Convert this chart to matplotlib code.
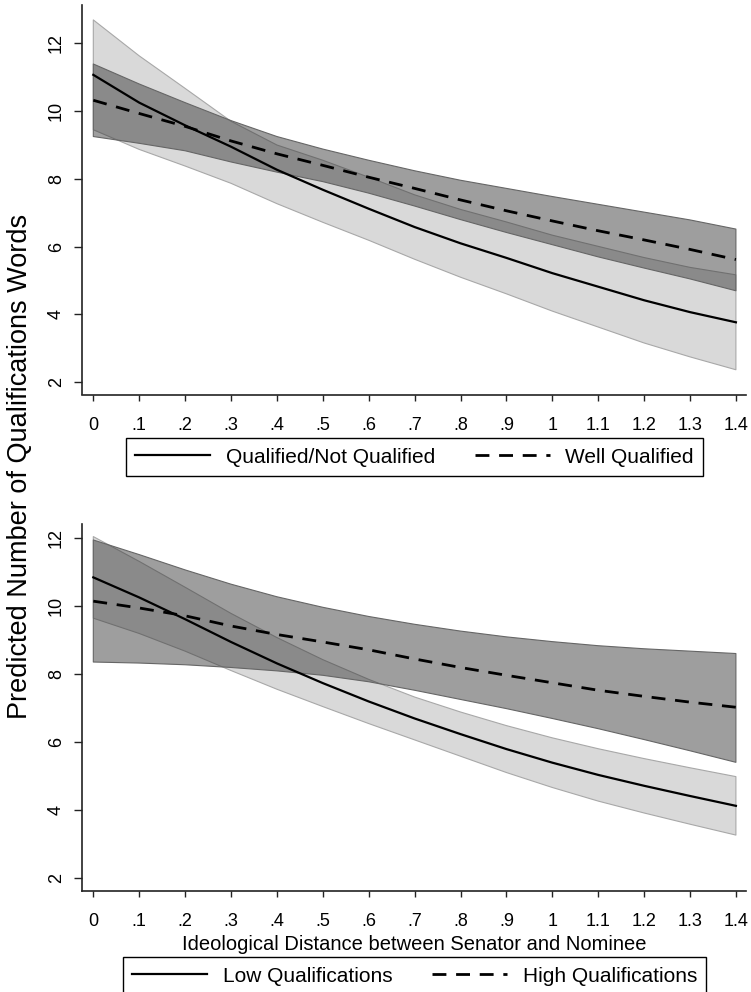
import matplotlib
matplotlib.use("Agg")
import matplotlib.pyplot as plt
from matplotlib.lines import Line2D

plt.rcParams["font.family"] = ["Liberation Sans", "DejaVu Sans"]

# x grid (ideological distance)
dist = [0.0, 0.1, 0.2, 0.3, 0.4, 0.5, 0.6, 0.7, 0.8, 0.9, 1.0, 1.1, 1.2, 1.3, 1.4]
x_ticks = [0.0, 0.1, 0.2, 0.3, 0.4, 0.5, 0.6, 0.7, 0.8, 0.9, 1.0, 1.1, 1.2, 1.3, 1.4]
x_ticklabels = ["0", ".1", ".2", ".3", ".4", ".5", ".6", ".7", ".8", ".9",
                "1", "1.1", "1.2", "1.3", "1.4"]
y_ticks = [2, 4, 6, 8, 10, 12]

# top panel: Qualified/Not Qualified vs Well Qualified
qnq_mean = [11.07, 10.25, 9.58, 8.95, 8.27, 7.68, 7.12, 6.58, 6.1, 5.67, 5.22, 4.82, 4.42, 4.07, 3.77]
qnq_hi = [12.69, 11.63, 10.67, 9.7, 9.0, 8.55, 8.05, 7.53, 7.1, 6.73, 6.34, 6.01, 5.68, 5.39, 5.17]
qnq_lo = [9.45, 8.87, 8.38, 7.87, 7.27, 6.72, 6.19, 5.63, 5.1, 4.61, 4.1, 3.63, 3.16, 2.75, 2.37]

wq_mean = [10.32, 9.93, 9.55, 9.12, 8.74, 8.4, 8.05, 7.72, 7.38, 7.06, 6.76, 6.47, 6.2, 5.92, 5.62]
wq_hi = [11.39, 10.8, 10.25, 9.72, 9.25, 8.88, 8.55, 8.24, 7.96, 7.72, 7.48, 7.25, 7.02, 6.79, 6.52]
wq_lo = [9.25, 9.05, 8.83, 8.5, 8.2, 7.92, 7.58, 7.2, 6.8, 6.42, 6.06, 5.7, 5.37, 5.05, 4.70]

# bottom panel: Low vs High Qualifications
lowq_mean = [10.85, 10.26, 9.62, 8.95, 8.32, 7.74, 7.2, 6.7, 6.24, 5.8, 5.4, 5.04, 4.72, 4.42, 4.13]
lowq_hi = [12.05, 11.32, 10.56, 9.79, 9.08, 8.43, 7.85, 7.33, 6.89, 6.49, 6.13, 5.81, 5.52, 5.25, 4.99]
lowq_lo = [9.65, 9.2, 8.68, 8.11, 7.56, 7.05, 6.55, 6.07, 5.59, 5.11, 4.67, 4.27, 3.92, 3.59, 3.27]

highq_mean = [10.15, 9.95, 9.72, 9.42, 9.17, 8.95, 8.72, 8.45, 8.2, 7.97, 7.75, 7.53, 7.35, 7.18, 7.03]
highq_hi = [11.95, 11.52, 11.07, 10.65, 10.28, 9.97, 9.7, 9.47, 9.27, 9.1, 8.96, 8.84, 8.75, 8.68, 8.61]
highq_lo = [8.36, 8.33, 8.28, 8.2, 8.1, 7.97, 7.78, 7.53, 7.26, 6.99, 6.7, 6.4, 6.08, 5.75, 5.41]

W, H = 751, 992
fig = plt.figure(figsize=(W / 100, H / 100), dpi=100)


def px_rect(left, top, right, bottom):
    return [left / W, 1 - bottom / H, (right - left) / W, (bottom - top) / H]


ax_top = fig.add_axes(px_rect(81.7, 5, 746, 394.5))
ax_bot = fig.add_axes(px_rect(81.7, 524, 746, 890.5))

SOLID_LW = 1.6
DASH_LW = 2.0
DASHES = (5, 3.5)


def draw_panel(ax, light, dark, ytop):
    m1, lo1, hi1 = light
    m2, lo2, hi2 = dark
    # light band (solid-line series)
    ax.fill_between(dist, lo1, hi1, facecolor="#d9d9d9", edgecolor="none", zorder=1)
    ax.fill_between(dist, lo1, hi1, facecolor="none", edgecolor="#a8a8a8", lw=0.8, zorder=1.5)
    # dark band, see-through so the overlap reads darker
    ax.fill_between(dist, lo2, hi2, facecolor="#323232", alpha=0.47, edgecolor="none", zorder=2)
    ax.fill_between(dist, lo2, hi2, facecolor="none", edgecolor="#666666", lw=0.8, zorder=2.5)

    ax.plot(dist, m1, color="black", lw=SOLID_LW, zorder=4)
    ax.plot(dist, m2, color="black", lw=DASH_LW, dashes=DASHES, zorder=4)

    ax.set_xlim(-0.0253, 1.422)
    ax.set_ylim(1.64, ytop)
    ax.set_xticks(x_ticks)
    ax.set_xticklabels(x_ticklabels)
    ax.set_yticks(y_ticks)
    ax.set_yticklabels([str(v) for v in y_ticks])

    for s in ["top", "right"]:
        ax.spines[s].set_visible(False)
    for s in ["left", "bottom"]:
        ax.spines[s].set_color("#222222")
        ax.spines[s].set_linewidth(1.2)

    ax.tick_params(axis="x", length=4.5, width=1.0, pad=12, labelsize=13, colors="#222222")
    ax.tick_params(axis="y", length=6, width=1.0, pad=6, labelsize=13, colors="#222222",
                   labelrotation=90)
    for lab in ax.get_yticklabels():
        lab.set_va("center")
    for lab in ax.get_xticklabels() + ax.get_yticklabels():
        lab.set_color("black")


draw_panel(ax_top, (qnq_mean, qnq_lo, qnq_hi), (wq_mean, wq_lo, wq_hi), 13.13)
draw_panel(ax_bot, (lowq_mean, lowq_lo, lowq_hi), (highq_mean, highq_lo, highq_hi), 12.42)

ax_bot.set_xlabel("Ideological Distance between Senator and Nominee", fontsize=14.5, labelpad=3)

fig.text(0.027, 0.530, "Predicted Number of Qualifications Words", rotation=90,
         ha="center", va="center", fontsize=19.5)


def add_legend(labels, top_px):
    handles = [Line2D([], [], color="black", lw=SOLID_LW),
               Line2D([], [], color="black", lw=DASH_LW, dashes=DASHES)]
    leg = fig.legend(handles, labels, loc="upper center",
                     bbox_to_anchor=(414.6 / W, 1 - top_px / H), ncol=2, fontsize=15,
                     frameon=True, fancybox=False, edgecolor="black", framealpha=1,
                     handlelength=3.6, handletextpad=0.75, columnspacing=1.9,
                     borderpad=0.45, borderaxespad=0)
    leg.get_frame().set_linewidth(1.0)
    return leg


add_legend(["Qualified/Not Qualified", "Well Qualified"], 438.3)
add_legend(["Low Qualifications", "High Qualifications"], 957.3)

fig.savefig("out.png", dpi=100)
